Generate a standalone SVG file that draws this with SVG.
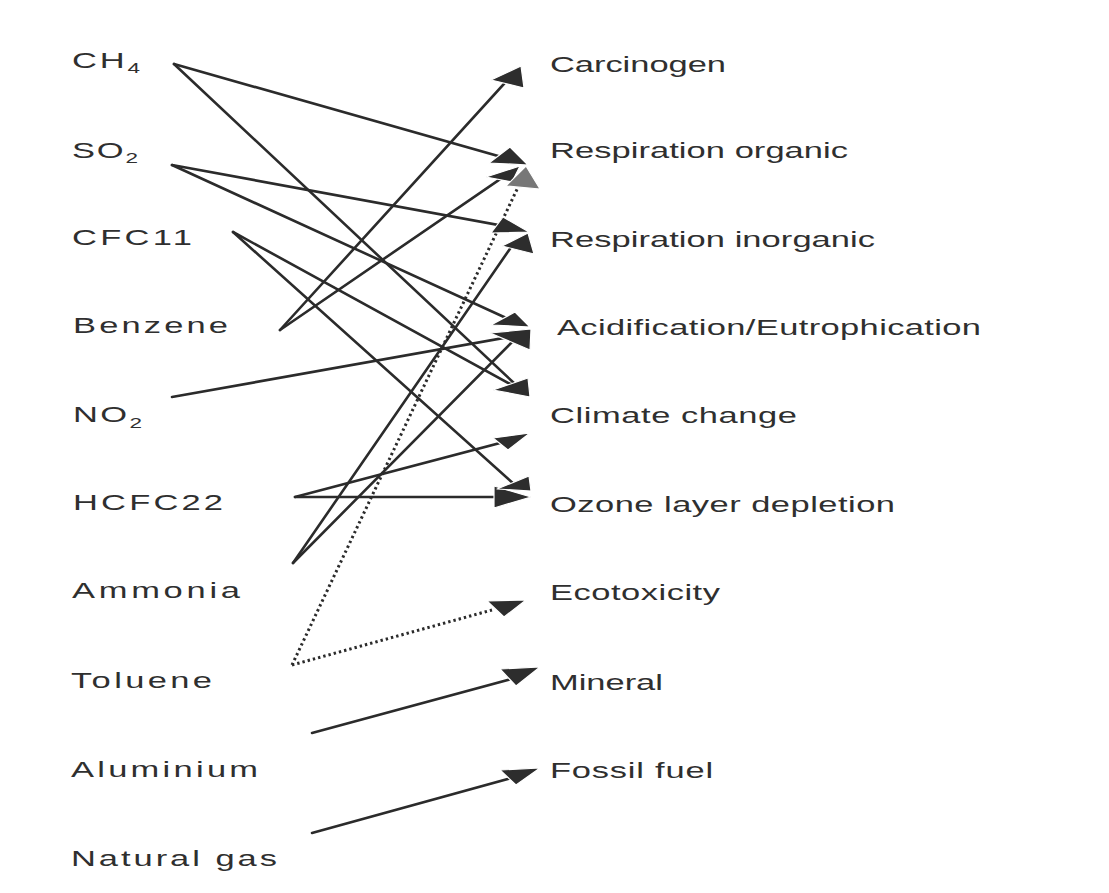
<svg xmlns="http://www.w3.org/2000/svg" width="1109" height="893" viewBox="0 0 1109 893">
  <style>
    .lbl { font-family: "Liberation Sans", Arial, sans-serif; font-size: 23px; fill: #2f2f2f; }
    .sub { font-size: 15px; }
    .ln { fill: none; stroke: #2b2b2b; stroke-width: 2.6; stroke-linecap: round; }
    .dot { fill: none; stroke: #2b2b2b; stroke-width: 3; stroke-dasharray: 2.4 3; }
    .ah { fill: #2d2d2d; stroke: #fff; stroke-width: 1.2; stroke-linejoin: round; }
    .ahg { fill: #777; stroke: #fff; stroke-width: 1.2; stroke-linejoin: round; }
  </style>
  <rect width="1109" height="893" fill="#fff"/>

  <!-- emissions (left column); labels are set wide: scaled 1.5x horizontally -->
  <g id="n-ch4" transform="translate(72 68) scale(1.5 1)"><text class="lbl" textLength="45.3" lengthAdjust="spacing">CH<tspan class="sub" dy="5">4</tspan></text></g>
  <g id="n-so2" transform="translate(72 158) scale(1.5 1)"><text class="lbl" textLength="44" lengthAdjust="spacing">SO<tspan class="sub" dy="5">2</tspan></text></g>
  <g id="n-cfc11" transform="translate(72 245) scale(1.5 1)"><text class="lbl" textLength="80" lengthAdjust="spacing">CFC11</text></g>
  <g id="n-benzene" transform="translate(73 333) scale(1.5 1)"><text class="lbl" textLength="103.3" lengthAdjust="spacing">Benzene</text></g>
  <g id="n-no2" transform="translate(73 422) scale(1.5 1)"><text class="lbl" textLength="46" lengthAdjust="spacing">NO<tspan class="sub" dy="6">2</tspan></text></g>
  <g id="n-hcfc22" transform="translate(73 510) scale(1.5 1)"><text class="lbl" textLength="100" lengthAdjust="spacing">HCFC22</text></g>
  <g id="n-ammonia" transform="translate(72 598) scale(1.5 1)"><text class="lbl" textLength="112" lengthAdjust="spacing">Ammonia</text></g>
  <g id="n-toluene" transform="translate(71 688) scale(1.5 1)"><text class="lbl" textLength="94" lengthAdjust="spacing">Toluene</text></g>
  <g id="n-aluminium" transform="translate(71 777) scale(1.5 1)"><text class="lbl" textLength="124.7" lengthAdjust="spacing">Aluminium</text></g>
  <g id="n-natgas" transform="translate(71 866) scale(1.5 1)"><text class="lbl" textLength="137.3" lengthAdjust="spacing">Natural gas</text></g>

  <!-- impact categories (right column) -->
  <g id="n-carcinogen" transform="translate(550 72) scale(1.5 1)"><text class="lbl" textLength="117.3" lengthAdjust="spacing">Carcinogen</text></g>
  <g id="n-resp-org" transform="translate(550 158) scale(1.5 1)"><text class="lbl" textLength="198.7" lengthAdjust="spacing">Respiration organic</text></g>
  <g id="n-resp-inorg" transform="translate(550 247) scale(1.5 1)"><text class="lbl" textLength="216.7" lengthAdjust="spacing">Respiration inorganic</text></g>
  <g id="n-acid" transform="translate(557 335) scale(1.5 1)"><text class="lbl" textLength="282.7" lengthAdjust="spacing">Acidification/Eutrophication</text></g>
  <g id="n-climate" transform="translate(550 423) scale(1.5 1)"><text class="lbl" textLength="164.7" lengthAdjust="spacing">Climate change</text></g>
  <g id="n-ozone" transform="translate(550 512) scale(1.5 1)"><text class="lbl" textLength="230" lengthAdjust="spacing">Ozone layer depletion</text></g>
  <g id="n-ecotox" transform="translate(550 600) scale(1.5 1)"><text class="lbl" textLength="113.3" lengthAdjust="spacing">Ecotoxicity</text></g>
  <g id="n-mineral" transform="translate(550 690) scale(1.5 1)"><text class="lbl" textLength="75.3" lengthAdjust="spacing">Mineral</text></g>
  <g id="n-fossil" transform="translate(550 778) scale(1.5 1)"><text class="lbl" textLength="108.7" lengthAdjust="spacing">Fossil fuel</text></g>

  <!-- connectors: emission -> impact -->
  <g id="connectors">
    <line class="ln" x1="174" y1="64" x2="512" y2="160"/>
    <line class="ln" x1="174" y1="64" x2="515" y2="384"/>
    <line class="ln" x1="172" y1="165" x2="515" y2="228"/>
    <line class="ln" x1="172" y1="165" x2="515" y2="322"/>
    <line class="ln" x1="233" y1="232" x2="512" y2="385"/>
    <line class="ln" x1="233" y1="232" x2="515" y2="485"/>
    <line class="ln" x1="280" y1="330" x2="512" y2="75"/>
    <line class="ln" x1="280" y1="330" x2="512" y2="171"/>
    <line class="ln" x1="172" y1="397" x2="515" y2="336"/>
    <line class="ln" x1="295" y1="497" x2="515" y2="439"/>
    <line class="ln" x1="295" y1="497" x2="515" y2="497"/>
    <line class="ln" x1="293" y1="563" x2="516" y2="240"/>
    <line class="ln" x1="293" y1="563" x2="516" y2="338"/>
    <line class="dot" x1="292" y1="665" x2="520" y2="183"/>
    <line class="dot" x1="292" y1="665" x2="492" y2="610"/>
    <line class="ln" x1="312" y1="733" x2="515" y2="678"/>
    <line class="ln" x1="312" y1="833" x2="515" y2="777"/>

    <!-- arrowheads -->
    <polygon class="ah" points="491,80 521,66 524,88"/>
    <polygon class="ah" points="489,163 510,147 528,165"/>
    <polygon class="ah" points="486,177 520,166 512,182"/>
    <polygon class="ahg" points="506,186 526,166 540,189"/>
    <polygon class="ah" points="491,233 503,217 529,232"/>
    <polygon class="ah" points="502,246 528,233 534,254"/>
    <polygon class="ah" points="490,333 531,329 530,350"/>
    <polygon class="ah" points="491,325 515,312 530,327"/>
    <polygon class="ah" points="493,390 528,378 530,397"/>
    <polygon class="ah" points="493,438 530,433 508,450"/>
    <polygon class="ah" points="494,486 531,497 494,508"/>
    <polygon class="ah" points="497,489 529,476 531,491"/>
    <polygon class="ah" points="487,601 526,600 504,617"/>
    <polygon class="ah" points="500,669 540,667 516,686"/>
    <polygon class="ah" points="500,770 540,768 516,785"/>
  </g>
</svg>
